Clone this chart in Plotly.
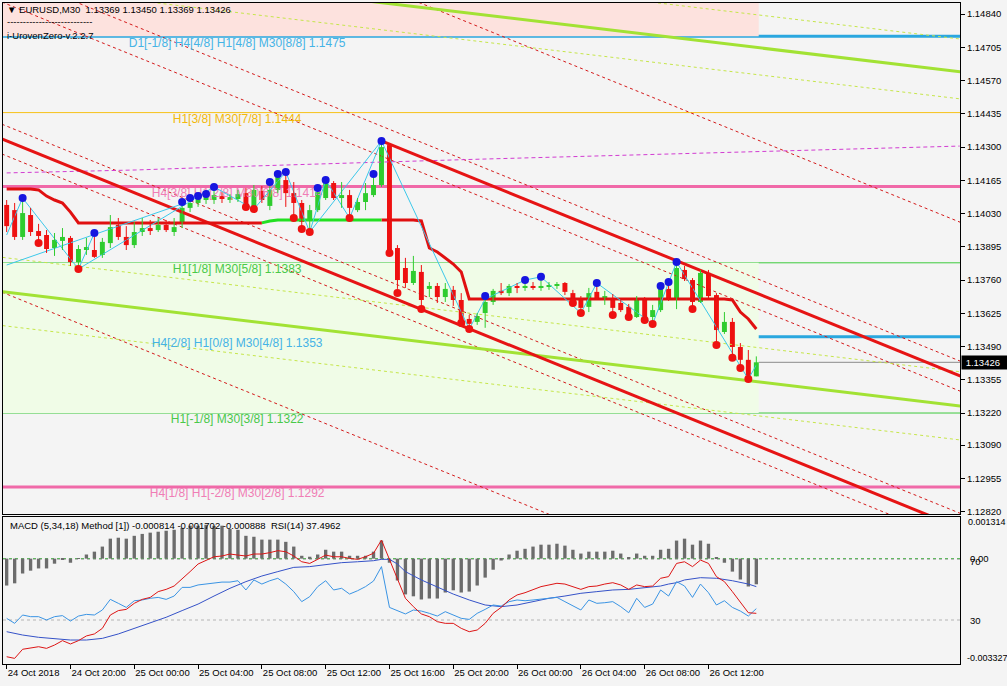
import plotly.graph_objects as go

# ---------------- price data : EURUSD M30, bar 0 = 24 Oct 16:00 ----------------
bars = list(range(95))
open_ = [1.14065, 1.14044, 1.13935, 1.14024, 1.13959, 1.13943, 1.13890, 1.13919, 1.13931, 1.13833,
         1.13882, 1.13882, 1.13862, 1.13910, 1.13984, 1.13935, 1.13902, 1.13955, 1.13971, 1.13963,
         1.13984, 1.13955, 1.13992, 1.14053, 1.14073, 1.14085, 1.14085, 1.14101, 1.14085, 1.14089,
         1.14113, 1.14057, 1.14122, 1.14061, 1.14126, 1.14166, 1.14113, 1.14073, 1.14004, 1.14044,
         1.14093, 1.14154, 1.14093, 1.14105, 1.14044, 1.14077, 1.14105, 1.14146, 1.14308, 1.13890,
         1.13809, 1.13748, 1.13793, 1.13724, 1.13736, 1.13691, 1.13720, 1.13679, 1.13602, 1.13590,
         1.13626, 1.13671, 1.13716, 1.13707, 1.13736, 1.13728, 1.13736, 1.13728, 1.13732, 1.13736,
         1.13748, 1.13707, 1.13683, 1.13651, 1.13712, 1.13687, 1.13687, 1.13667, 1.13651, 1.13610,
         1.13687, 1.13610, 1.13638, 1.13724, 1.13679, 1.13801, 1.13760, 1.13671, 1.13789, 1.13699,
         1.13549, 1.13590, 1.13488, 1.13436, 1.13369]
high_ = [1.14085, 1.14073, 1.14081, 1.14053, 1.13988, 1.13963, 1.13951, 1.13971, 1.13939, 1.13902,
         1.13931, 1.13935, 1.13931, 1.14024, 1.14012, 1.13979, 1.13996, 1.14012, 1.14004, 1.14012,
         1.14004, 1.14012, 1.14073, 1.14089, 1.14097, 1.14105, 1.14130, 1.14117, 1.14109, 1.14126,
         1.14134, 1.14146, 1.14142, 1.14150, 1.14182, 1.14191, 1.14158, 1.14085, 1.14065, 1.14126,
         1.14158, 1.14162, 1.14158, 1.14126, 1.14093, 1.14154, 1.14178, 1.14316, 1.14316, 1.13902,
         1.13850, 1.13858, 1.13821, 1.13752, 1.13748, 1.13748, 1.13736, 1.13707, 1.13618, 1.13626,
         1.13679, 1.13724, 1.13748, 1.13744, 1.13748, 1.13748, 1.13752, 1.13760, 1.13752, 1.13752,
         1.13752, 1.13720, 1.13695, 1.13728, 1.13740, 1.13716, 1.13703, 1.13679, 1.13663, 1.13695,
         1.13691, 1.13659, 1.13732, 1.13744, 1.13829, 1.13817, 1.13768, 1.13801, 1.13801, 1.13707,
         1.13630, 1.13606, 1.13504, 1.13476, 1.13450]
low_ = [1.13955, 1.13923, 1.13923, 1.13939, 1.13923, 1.13870, 1.13858, 1.13882, 1.13817, 1.13809,
        1.13862, 1.13850, 1.13850, 1.13890, 1.13923, 1.13882, 1.13890, 1.13939, 1.13943, 1.13955,
        1.13955, 1.13939, 1.13971, 1.14036, 1.14057, 1.14069, 1.14069, 1.14073, 1.14073, 1.14077,
        1.14061, 1.14048, 1.14073, 1.14044, 1.14113, 1.14057, 1.14020, 1.13975, 1.13959, 1.14036,
        1.14085, 1.14085, 1.14053, 1.14020, 1.14036, 1.14044, 1.14097, 1.14138, 1.13874, 1.13724,
        1.13728, 1.13740, 1.13651, 1.13691, 1.13667, 1.13671, 1.13655, 1.13590, 1.13569, 1.13578,
        1.13566, 1.13659, 1.13699, 1.13695, 1.13707, 1.13716, 1.13720, 1.13716, 1.13720, 1.13724,
        1.13699, 1.13667, 1.13634, 1.13630, 1.13679, 1.13659, 1.13626, 1.13630, 1.13614, 1.13606,
        1.13606, 1.13590, 1.13630, 1.13675, 1.13642, 1.13756, 1.13651, 1.13667, 1.13687, 1.13504,
        1.13541, 1.13452, 1.13411, 1.13362, 1.13369]
close_ = [1.13979, 1.13935, 1.14032, 1.13955, 1.13939, 1.13886, 1.13923, 1.13935, 1.13833, 1.13886,
          1.13894, 1.13854, 1.13915, 1.13975, 1.13935, 1.13902, 1.13955, 1.13971, 1.13959, 1.13984,
          1.13963, 1.13975, 1.14053, 1.14073, 1.14089, 1.14097, 1.14105, 1.14089, 1.14097, 1.14109,
          1.14065, 1.14126, 1.14085, 1.14126, 1.14178, 1.14113, 1.14073, 1.13996, 1.14044, 1.14117,
          1.14154, 1.14093, 1.14105, 1.14053, 1.14077, 1.14113, 1.14146, 1.14300, 1.13882, 1.13760,
          1.13748, 1.13797, 1.13679, 1.13736, 1.13691, 1.13724, 1.13679, 1.13598, 1.13582, 1.13614,
          1.13671, 1.13716, 1.13707, 1.13736, 1.13728, 1.13736, 1.13728, 1.13736, 1.13740, 1.13744,
          1.13712, 1.13671, 1.13647, 1.13707, 1.13687, 1.13695, 1.13647, 1.13638, 1.13618, 1.13687,
          1.13610, 1.13638, 1.13724, 1.13679, 1.13809, 1.13764, 1.13671, 1.13789, 1.13695, 1.13557,
          1.13590, 1.13488, 1.13436, 1.13369, 1.13426]

# step (trailing) line under the candles, one value per bar
step_line = [1.14130, 1.14130, 1.14130, 1.14130, 1.14126, 1.14101, 1.14085, 1.14073, 1.14036, 1.13992,
             1.13992, 1.13992, 1.13992, 1.13992, 1.13992, 1.13992, 1.13992, 1.13992, 1.13992, 1.13992,
             1.13992, 1.13992, 1.13992, 1.13992, 1.13992, 1.13992, 1.13992, 1.13992, 1.13992, 1.13992,
             1.13992, 1.13992, 1.13992, 1.14000, 1.14004, 1.14004, 1.14004, 1.14004, 1.14004, 1.14004,
             1.14004, 1.14004, 1.14004, 1.14004, 1.14004, 1.14004, 1.14004, 1.14004, 1.14004, 1.14004,
             1.14004, 1.14004, 1.14000, 1.13890, 1.13874, 1.13850, 1.13825, 1.13793, 1.13683, 1.13683,
             1.13683, 1.13683, 1.13683, 1.13683, 1.13683, 1.13683, 1.13683, 1.13683, 1.13683, 1.13683,
             1.13683, 1.13683, 1.13683, 1.13683, 1.13683, 1.13683, 1.13683, 1.13683, 1.13683, 1.13683,
             1.13683, 1.13683, 1.13683, 1.13683, 1.13683, 1.13683, 1.13683, 1.13683, 1.13683, 1.13683,
             1.13683, 1.13679, 1.13630, 1.13602, 1.13561]
step_green_from, step_green_to = 32, 47

# fractal dots
blue_dot_bar = [2, 11, 22, 23, 24, 25, 26, 33, 34, 35, 39, 40, 46, 47, 60, 65, 67, 74, 82, 83, 84]
blue_dot_px = [1.14093, 1.13951, 1.14077, 1.14093, 1.14101, 1.14109, 1.14138, 1.14158, 1.14191, 1.14199,
               1.14134, 1.14166, 1.14191, 1.14325, 1.13695, 1.13760, 1.13773, 1.13748, 1.13736, 1.13752,
               1.13833]
red_dot_bar = [4, 9, 30, 31, 36, 37, 38, 43, 48, 49, 52, 57, 58, 71, 72, 76, 78, 80, 81, 86, 89, 91, 92, 93]
red_dot_px = [1.13910, 1.13805, 1.14057, 1.14048, 1.14012, 1.13967, 1.13955, 1.14012, 1.13870, 1.13707,
              1.13642, 1.13586, 1.13561, 1.13667, 1.13626, 1.13618, 1.13610, 1.13598, 1.13582, 1.13642,
              1.13496, 1.13444, 1.13403, 1.13358]

# zigzag
zz_bar = [0, 2, 9, 26, 31, 35, 38, 40, 43, 47, 58, 60, 65, 67, 72, 74, 81, 84, 93, 94]
zz_px = [1.13943, 1.14093, 1.13805, 1.14138, 1.14048, 1.14199, 1.13955, 1.14166, 1.14012, 1.14325,
         1.13561, 1.13683, 1.13760, 1.13773, 1.13626, 1.13748, 1.13582, 1.13833, 1.13358, 1.13415]
zz2_bar = [0, 22, None, 9, 11, None, 38, 47]
zz2_px = [1.13821, 1.14069, None, 1.13805, 1.13951, None, 1.13955, 1.14325]

# slow dashed moving average (magenta)
ma_bar = [0, 16.2, 30.8, 41.2, 47, 59.5, 74.5, 97, 119.5]
ma_px = [1.14195, 1.14207, 1.14223, 1.14235, 1.14239, 1.14251, 1.14264, 1.14284, 1.14304]

# trend channels: (bar1, price1, bar2, price2)
red_solid = [(0, 1.14325, 120, 1.12747), (47, 1.14325, 120, 1.13365)]
red_dashed = [(0, 1.15567, 120, 1.13989), (0, 1.15003, 120, 1.13425), (0, 1.14881, 120, 1.13303),
              (0, 1.14385, 120, 1.12807), (0, 1.14264, 120, 1.12686), (0, 1.13703, 120, 1.12125)]
yg_solid = [(0, 1.15068, 120, 1.14604), (0, 1.13711, 120, 1.13247)]
yg_dashed = [(0, 1.15201, 120, 1.14737), (0, 1.14958, 120, 1.14494),
             (0, 1.13850, 120, 1.13386), (0, 1.13573, 120, 1.13109)]

# i-UrovenZero levels
level_prices = [1.1475, 1.1444, 1.1414, 1.1383, 1.1353, 1.1322, 1.1292]
level_labels = ["D1[-1/8] H4[4/8] H1[4/8] M30[8/8] 1.1475", "H1[3/8] M30[7/8] 1.1444",
                "H4[3/8] H1[2/8] M30[6/8] 1.1414", "H1[1/8] M30[5/8] 1.1383",
                "H4[2/8] H1[0/8] M30[4/8] 1.1353", "H1[-1/8] M30[3/8] 1.1322",
                "H4[1/8] H1[-2/8] M30[2/8] 1.1292"]
level_colors = ["#2aa7df", "#f6c21a", "#f069a8", "#3dca3d", "#2aa7df", "#3dca3d", "#f069a8"]
level_text_colors = ["#45b3e6", "#f2b80c", "#f07db5", "#49c949", "#45b3e6", "#49c949", "#f07db5"]
level_widths = [3, 1, 3, 1, 3, 1, 3]
zone_pink = (1.1475, 1.14885)
zone_green = (1.1322, 1.1383)
last_price = 1.13426

# MACD histogram and RSI-panel lines
macd_hist = [-0.00085, -0.00078, -0.00047, -0.00038, -0.00031, -0.00031, -0.00016, -0.00003, -0.00013, 0.00001,
             0.00013, 0.00022, 0.00038, 0.00063, 0.00066, 0.00063, 0.00072, 0.00078, 0.00082, 0.00085,
             0.00088, 0.00091, 0.00097, 0.00104, 0.00104, 0.00107, 0.00104, 0.00104, 0.00094, 0.00091,
             0.00072, 0.00069, 0.00060, 0.00060, 0.00060, 0.00053, 0.00038, 0.00009, 0.00006, 0.00013,
             0.00028, 0.00022, 0.00022, 0.00009, 0.00009, 0.00009, 0.00022, 0.00057, -0.00013, -0.00069,
             -0.00113, -0.00119, -0.00129, -0.00126, -0.00126, -0.00107, -0.00100, -0.00107, -0.00104, -0.00085,
             -0.00060, -0.00035, -0.00006, 0.00013, 0.00025, 0.00031, 0.00038, 0.00044, 0.00044, 0.00047,
             0.00041, 0.00028, 0.00016, 0.00022, 0.00022, 0.00022, 0.00025, 0.00016, 0.00003, 0.00016,
             0.00009, 0.00009, 0.00028, 0.00031, 0.00057, 0.00063, 0.00044, 0.00057, 0.00047, 0.00003,
             -0.00013, -0.00041, -0.00066, -0.00088, -0.00081]
rsi14 = [31.1, 27.8, 33.3, 32.2, 32.2, 30.0, 32.2, 32.9, 29.3, 32.6,
         33.7, 33.3, 36.6, 43.6, 41.0, 38.3, 42.7, 43.2, 44.3, 44.9,
         43.6, 45.8, 51.5, 51.5, 53.1, 53.7, 54.6, 55.0, 55.0, 55.9,
         49.8, 56.4, 53.7, 55.9, 57.5, 53.7, 48.7, 42.1, 45.4, 52.0,
         55.9, 49.8, 50.9, 47.1, 49.3, 52.0, 55.7, 65.2, 38.3, 36.1,
         34.0, 36.6, 35.9, 34.4, 32.6, 35.5, 33.3, 31.1, 30.4, 34.4,
         37.0, 39.9, 39.2, 42.1, 43.2, 42.7, 43.2, 43.6, 44.3, 44.9,
         42.1, 39.2, 36.6, 43.2, 41.0, 41.4, 42.1, 38.8, 34.8, 44.3,
         38.3, 40.5, 49.8, 45.8, 55.3, 52.4, 44.9, 53.7, 48.0, 39.9,
         42.7, 38.3, 35.9, 32.6, 37.5]
red_osc = [5.8, 4.7, 10.7, 11.3, 12.4, 11.3, 13.5, 16.4, 14.2, 16.4,
           19.5, 20.8, 24.5, 33.3, 36.2, 37.0, 41.0, 43.6, 44.9, 48.7,
           50.2, 52.4, 57.5, 61.9, 66.9, 69.5, 71.7, 72.2, 73.5, 72.8,
           72.2, 73.5, 73.5, 74.4, 75.7, 75.0, 72.2, 68.4, 67.3, 70.0,
           72.8, 71.7, 71.7, 70.6, 70.0, 71.7, 74.0, 82.7, 69.5, 56.4,
           44.3, 38.8, 34.0, 32.2, 28.9, 27.8, 27.8, 24.5, 22.3, 23.4,
           27.8, 34.4, 38.3, 43.2, 46.5, 48.0, 50.2, 52.0, 53.1, 54.2,
           53.7, 52.0, 50.2, 52.0, 52.4, 53.7, 54.6, 53.1, 50.2, 53.1,
           52.0, 52.4, 57.5, 58.6, 67.3, 68.4, 65.2, 69.5, 67.3, 58.6,
           55.3, 48.7, 42.1, 34.8, 34.4]
slow_bar = [0, 1, 2, 4, 6, 8, 10, 12, 14, 16, 18, 20, 22, 24, 26, 28, 30, 32, 34, 36,
            38, 40, 42, 44, 46, 47, 48, 49, 50, 52, 54, 56, 58, 60, 62, 64, 66, 68, 70, 72,
            74, 76, 78, 80, 82, 83, 84, 85, 87, 89, 91, 93, 94]
slow_val = [22.3, 21.2, 20.1, 18.6, 17.9, 16.8, 16.8, 17.9, 20.8, 24.5, 27.8, 31.8, 36.2, 40.5, 45.8,
            50.9, 55.3, 59.0, 61.9, 64.7, 65.2, 66.7, 67.8, 68.4, 69.1, 70.0, 70.0, 66.9, 61.9, 56.4,
            51.5, 47.1, 43.2, 39.9, 38.8, 39.9, 42.1, 44.3, 45.8, 47.6, 48.7, 49.8, 50.2, 51.5, 52.4,
            53.7, 54.6, 56.4, 57.9, 57.5, 55.9, 53.7, 52.0]

# axis ticks
price_ticks = [1.14840, 1.14705, 1.14570, 1.14435, 1.14300, 1.14165, 1.14030, 1.13895,
               1.13760, 1.13625, 1.13490, 1.13355, 1.13220, 1.13090, 1.12955, 1.12820]
time_tick_bars = [0, 8, 16, 24, 32, 40, 48, 56, 64, 72, 80, 88]
time_tick_labels = ["24 Oct 2018", "24 Oct 20:00", "25 Oct 00:00", "25 Oct 04:00", "25 Oct 08:00",
                    "25 Oct 12:00", "25 Oct 16:00", "25 Oct 20:00", "26 Oct 00:00", "26 Oct 04:00",
                    "26 Oct 08:00", "26 Oct 12:00"]

# ---------------- layout constants ----------------
W, H = 1007, 686
ML, MR, MT, MB = 3, 47, 3, 22
X_RANGE = [-0.46, 119.54]
Y_RANGE = [1.12810, 1.14885]
MACD_RANGE = [-0.003327, 0.001314]
RSI_RANGE = [1.0, 97.9]
FONT = "Liberation Sans"
UP, DN = "#2fcc2f", "#ee1111"
BG = "#f4f4f4"

pw, ph = W - ML - MR, H - MT - MB


def fx(px):
    return (px - ML) / pw


def fy(py):
    return (H - MB - py) / ph


def trend(b1, p1, b2, p2, start=-2.0, end=122.0):
    s = (p2 - p1) / (b2 - b1)
    a = max(start, b1) if b1 > 0 else start
    return [a, end], [p1 + s * (a - b1), p1 + s * (end - b1)]


fig = go.Figure()

# zones and horizontal levels
shapes = []
shapes.append(dict(type="rect", xref="x", yref="y", x0=X_RANGE[0], x1=94.3, y0=zone_pink[0], y1=zone_pink[1],
                   fillcolor="#fde2de", line_width=0, layer="below"))
shapes.append(dict(type="rect", xref="x", yref="y", x0=X_RANGE[0], x1=94.3, y0=zone_green[0], y1=zone_green[1],
                   fillcolor="#f0fce7", line_width=0, layer="below"))
for p, c, w in zip(level_prices, level_colors, level_widths):
    shapes.append(dict(type="line", xref="paper", yref="y", x0=0, x1=1, y0=p, y1=p,
                       line=dict(color=c, width=w), layer="below"))
shapes.append(dict(type="line", xref="paper", yref="y", x0=0, x1=1, y0=last_price, y1=last_price,
                   line=dict(color="#8a8a8a", width=1), layer="below"))
# MACD panel levels
shapes.append(dict(type="line", xref="paper", yref="y2", x0=0, x1=1, y0=0, y1=0,
                   line=dict(color="#3cb43c", width=1, dash="3px,3px"), layer="below"))
shapes.append(dict(type="line", xref="paper", yref="y3", x0=0, x1=1, y0=70, y1=70,
                   line=dict(color="#b4b4b4", width=1, dash="3px,3px"), layer="below"))
shapes.append(dict(type="line", xref="paper", yref="y3", x0=0, x1=1, y0=30, y1=30,
                   line=dict(color="#b4b4b4", width=1, dash="3px,3px"), layer="below"))

# dashed channel lines
for b1, p1, b2, p2 in red_dashed:
    xs, ys = trend(b1, p1, b2, p2)
    fig.add_trace(go.Scatter(x=xs, y=ys, mode="lines", line=dict(color="#d41a1a", width=1, dash="3px,3px"),
                             hoverinfo="skip"))
for b1, p1, b2, p2 in yg_dashed:
    xs, ys = trend(b1, p1, b2, p2)
    fig.add_trace(go.Scatter(x=xs, y=ys, mode="lines", line=dict(color="#c6e64a", width=1, dash="3px,3px"),
                             hoverinfo="skip"))
for b1, p1, b2, p2 in yg_solid:
    xs, ys = trend(b1, p1, b2, p2)
    fig.add_trace(go.Scatter(x=xs, y=ys, mode="lines", line=dict(color="#a2e234", width=3), hoverinfo="skip"))

# moving average (magenta dashed)
fig.add_trace(go.Scatter(x=ma_bar, y=ma_px, mode="lines", line=dict(color="#d23cd2", width=1, dash="4px,3px"),
                         hoverinfo="skip"))

# level labels (behind candles)
fig.add_trace(go.Scatter(x=[28.9] * len(level_prices), y=[p - 0.0003 for p in level_prices], mode="text",
                         text=level_labels, textposition="middle center",
                         textfont=dict(family=FONT, size=12, color=level_text_colors), hoverinfo="skip",
                         cliponaxis=False))

# thick channel lines
for b1, p1, b2, p2 in red_solid:
    xs, ys = trend(b1, p1, b2, p2)
    fig.add_trace(go.Scatter(x=xs, y=ys, mode="lines", line=dict(color="#e61414", width=3), hoverinfo="skip"))

# step line: red / green / red
red1_x = bars[:step_green_from + 1]
red1_y = step_line[:step_green_from + 1]
grn_x = bars[step_green_from:step_green_to + 1]
grn_y = step_line[step_green_from:step_green_to + 1]
red2_x = bars[step_green_to:]
red2_y = step_line[step_green_to:]
fig.add_trace(go.Scatter(x=red1_x + [None] + red2_x, y=red1_y + [None] + red2_y, mode="lines",
                         line=dict(color="#e01010", width=3), hoverinfo="skip"))
fig.add_trace(go.Scatter(x=grn_x, y=grn_y, mode="lines", line=dict(color="#22e022", width=3), hoverinfo="skip"))

# zigzag
fig.add_trace(go.Scatter(x=zz_bar, y=zz_px, mode="lines", line=dict(color="#3cc8ea", width=1), hoverinfo="skip"))
fig.add_trace(go.Scatter(x=zz2_bar, y=zz2_px, mode="lines", line=dict(color="#3cc8ea", width=1),
                         hoverinfo="skip", connectgaps=False))

# candles: wicks
for up in (True, False):
    wx, wy = [], []
    for i, o, h, l, c in zip(bars, open_, high_, low_, close_):
        if (c >= o) == up:
            wx += [i, i, None]
            wy += [l, h, None]
    fig.add_trace(go.Scatter(x=wx, y=wy, mode="lines", line=dict(color=UP if up else DN, width=1),
                             hoverinfo="skip"))
# candles: bodies
for up in (True, False):
    bx, bb, bh = [], [], []
    for i, o, c in zip(bars, open_, close_):
        if (c >= o) == up:
            bx.append(i)
            bb.append(min(o, c))
            bh.append(max(abs(c - o), 0.00003))
    fig.add_trace(go.Bar(x=bx, y=bh, base=bb, width=0.62, marker=dict(color=UP if up else DN, line_width=0),
                         hoverinfo="skip"))

# fractal dots
fig.add_trace(go.Scatter(x=blue_dot_bar, y=blue_dot_px, mode="markers",
                         marker=dict(color="#1616e0", size=8), hoverinfo="skip"))
fig.add_trace(go.Scatter(x=red_dot_bar, y=red_dot_px, mode="markers",
                         marker=dict(color="#ee1111", size=8), hoverinfo="skip"))

# MACD panel
fig.add_trace(go.Bar(x=bars, y=macd_hist, width=0.42, marker=dict(color="#6c6c6c", line_width=0),
                     xaxis="x2", yaxis="y2", hoverinfo="skip"))
fig.add_trace(go.Scatter(x=slow_bar, y=slow_val, mode="lines", line=dict(color="#3552c8", width=1),
                         xaxis="x2", yaxis="y3", hoverinfo="skip"))
fig.add_trace(go.Scatter(x=bars, y=rsi14, mode="lines", line=dict(color="#3a94e4", width=1),
                         xaxis="x2", yaxis="y3", hoverinfo="skip"))
fig.add_trace(go.Scatter(x=bars, y=red_osc, mode="lines", line=dict(color="#dd1515", width=1),
                         xaxis="x2", yaxis="y3", hoverinfo="skip"))

main_bottom = fy(514)
macd_top = fy(517)

annotations = [
    dict(x=fx(5), y=fy(10), text="\u25bc EURUSD,M30\u00a0\u00a01.13369 1.13450 1.13369 1.13426"),
    dict(x=fx(5), y=fy(22), text="---------------------------"),
    dict(x=fx(5), y=fy(35), text="i-UrovenZero-v.2.2.7"),
    dict(x=fx(8), y=fy(525),
         text="MACD (5,34,18) Method [1]) -0.000814 -0.001702 -0.000888\u00a0\u00a0RSI(14) 37.4962"),
    dict(x=fx(966), y=fy(522), text="0.001314"),
    dict(x=fx(968), y=fy(558), text="0.00"),
    dict(x=fx(968), y=fy(561), text="70"),
    dict(x=fx(968), y=fy(620), text="30"),
    dict(x=fx(965), y=fy(658), text="-0.003327"),
]
for a in annotations:
    a.update(xref="paper", yref="paper", xanchor="left", yanchor="middle", showarrow=False,
             font=dict(family=FONT, size=9.5, color="black"))
annotations[4]["font"]["size"] = 9
annotations[8]["font"]["size"] = 9
annotations.append(dict(x=fx(961), y=last_price, xref="paper", yref="y", xanchor="left", yanchor="middle",
                        showarrow=False, text="\u00a01.13426\u00a0\u00a0\u00a0", bgcolor="black",
                        font=dict(family=FONT, size=9.5, color="white"), borderpad=1))

axis_common = dict(showgrid=False, zeroline=False, showline=True, linecolor="black", linewidth=1, mirror=True)

fig.update_layout(
    width=W, height=H, margin=dict(l=ML, r=MR, t=MT, b=MB, pad=0),
    paper_bgcolor=BG, plot_bgcolor=BG, showlegend=False, barmode="overlay",
    font=dict(family=FONT, size=9.5, color="black"),
    shapes=shapes, annotations=annotations,
    xaxis=dict(domain=[0, 1], range=X_RANGE, anchor="y", showticklabels=False, ticks="", **axis_common),
    yaxis=dict(domain=[main_bottom, 1], range=Y_RANGE, side="right", anchor="x",
               tickvals=price_ticks, ticktext=["%.5f" % v for v in price_ticks],
               ticks="outside", ticklen=4, tickcolor="black", tickfont=dict(size=9.5), **axis_common),
    xaxis2=dict(domain=[0, 1], range=X_RANGE, anchor="y2", matches="x",
                tickvals=time_tick_bars, ticktext=time_tick_labels, ticks="outside", ticklen=4,
                tickcolor="black", ticklabelposition="outside right", tickfont=dict(size=9.5), **axis_common),
    yaxis2=dict(domain=[0, macd_top], range=MACD_RANGE, anchor="x2", side="right", showticklabels=False,
                ticks="", **axis_common),
    yaxis3=dict(range=RSI_RANGE, overlaying="y2", anchor="x2", side="right", showticklabels=False,
                showgrid=False, zeroline=False, showline=False, ticks=""),
)

fig.write_html("out.html", config={"displayModeBar": False},
               post_script="document.body.style.margin='0px';document.body.style.overflow='hidden';")
